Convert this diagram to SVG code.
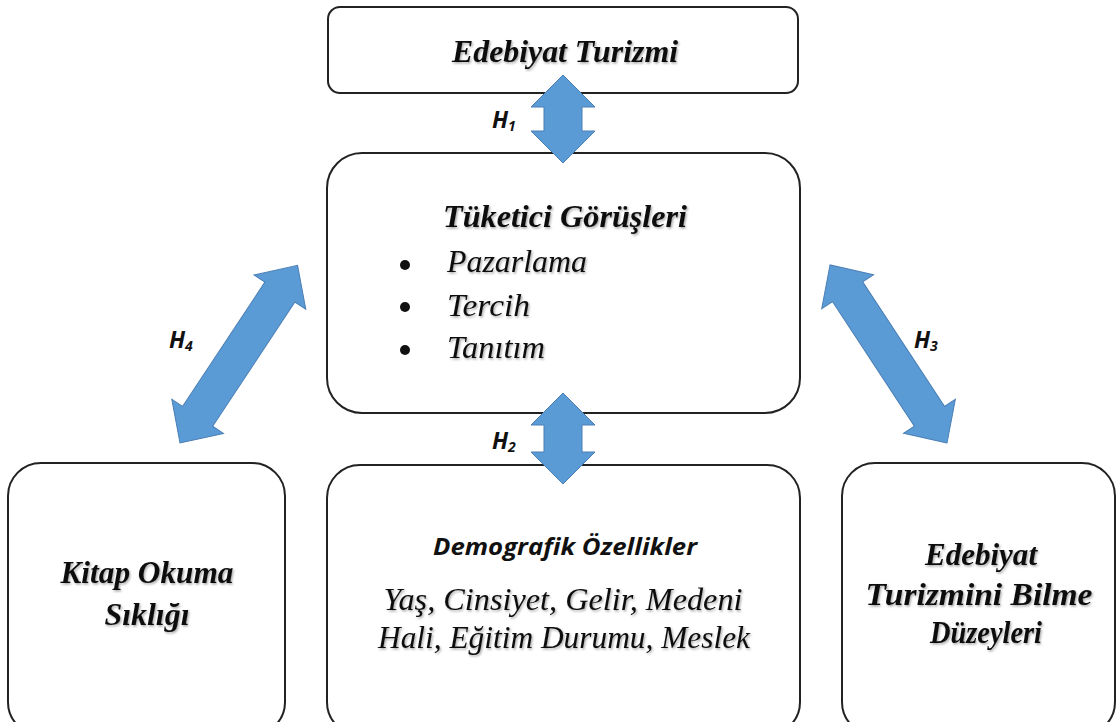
<svg xmlns="http://www.w3.org/2000/svg" width="1117" height="722" viewBox="0 0 1117 722">
<defs>
<filter id="sh" x="-10%" y="-30%" width="120%" height="160%">
<feDropShadow dx="1.2" dy="1.5" stdDeviation="1" flood-color="#000" flood-opacity="0.35"/>
</filter>
<style>
.box{fill:#fff;stroke:#222;stroke-width:2}
.arr{fill:#5b9bd5;stroke:#4a7fb5;stroke-width:1}
.t{font-family:"Liberation Serif","Times New Roman",serif;font-style:italic;font-weight:bold;font-size:32px;fill:#111;text-anchor:middle;filter:url(#sh)}
.it{font-family:"Liberation Serif","Times New Roman",serif;font-style:italic;font-size:32px;fill:#111;filter:url(#sh)}
.h{font-family:"Open Sans","Liberation Sans",sans-serif;font-style:italic;font-weight:bold;font-size:23px;fill:#111}
.hs{font-size:14px}
.demo{font-family:"Open Sans","Liberation Sans",sans-serif;font-style:italic;font-weight:bold;font-size:24px;fill:#111;text-anchor:middle}
</style>
</defs>
<rect width="1117" height="722" fill="#fff"/>

<g id="node-edebiyat-turizmi">
<rect class="box" x="328" y="7" width="470" height="86" rx="12"/>
<text class="t" x="565" y="62" textLength="226" lengthAdjust="spacingAndGlyphs">Edebiyat Turizmi</text>
</g>

<g id="node-tuketici">
<rect class="box" x="327" y="153" width="473" height="260" rx="35"/>
<text class="t" x="565" y="227" textLength="244" lengthAdjust="spacingAndGlyphs">Tüketici Görüşleri</text>
<circle cx="405" cy="265" r="5" fill="#111"/>
<circle cx="405" cy="307" r="5" fill="#111"/>
<circle cx="405" cy="350" r="5" fill="#111"/>
<text class="it" x="447" y="272" textLength="140" lengthAdjust="spacingAndGlyphs">Pazarlama</text>
<text class="it" x="447" y="316" textLength="83" lengthAdjust="spacingAndGlyphs">Tercih</text>
<text class="it" x="447" y="358" textLength="98" lengthAdjust="spacingAndGlyphs">Tanıtım</text>
</g>

<g id="node-kitap">
<rect class="box" x="8" y="463" width="277" height="272" rx="33"/>
<text class="t" x="147" y="583" textLength="173" lengthAdjust="spacingAndGlyphs">Kitap Okuma</text>
<text class="t" x="147" y="625" textLength="85" lengthAdjust="spacingAndGlyphs">Sıklığı</text>
</g>

<g id="node-demografik">
<rect class="box" x="327" y="465" width="473" height="270" rx="33"/>
<text class="demo" x="565" y="555" textLength="264" lengthAdjust="spacingAndGlyphs">Demografik Özellikler</text>
<text class="it" x="563" y="610" text-anchor="middle" textLength="359" lengthAdjust="spacingAndGlyphs">Yaş, Cinsiyet, Gelir, Medeni</text>
<text class="it" x="564" y="648" text-anchor="middle" textLength="372" lengthAdjust="spacingAndGlyphs">Hali, Eğitim Durumu, Meslek</text>
</g>

<g id="node-bilme">
<rect class="box" x="842" y="463" width="273" height="272" rx="33"/>
<text class="t" x="981" y="565" textLength="112" lengthAdjust="spacingAndGlyphs">Edebiyat</text>
<text class="t" x="979" y="605" textLength="227" lengthAdjust="spacingAndGlyphs">Turizmini Bilme</text>
<text class="t" x="986" y="643" textLength="112" lengthAdjust="spacingAndGlyphs">Düzeyleri</text>
</g>

<g id="connectors">
<polygon class="arr" points="563,75 595,107 582,107 582,131 595,131 563,163 531,131 544,131 544,107 531,107"/>
<polygon class="arr" points="563,393 595,425 582,425 582,452 595,452 563,484 531,452 544,452 544,425 531,425"/>
<g transform="translate(180,443) rotate(-56.5)">
<polygon class="arr" points="0,0 32,-31 32,-18 181,-18 181,-31 213,0 181,31 181,18 32,18 32,31"/>
</g>
<g transform="translate(947,443) rotate(-123.3)">
<polygon class="arr" points="0,0 32,-31 32,-18 181,-18 181,-31 213,0 181,31 181,18 32,18 32,31"/>
</g>
<text class="h" x="492" y="128">H<tspan class="hs" dy="3">1</tspan></text>
<text class="h" x="492" y="449">H<tspan class="hs" dy="3">2</tspan></text>
<text class="h" x="914" y="348">H<tspan class="hs" dy="3">3</tspan></text>
<text class="h" x="169" y="348">H<tspan class="hs" dy="3">4</tspan></text>
</g>
</svg>
